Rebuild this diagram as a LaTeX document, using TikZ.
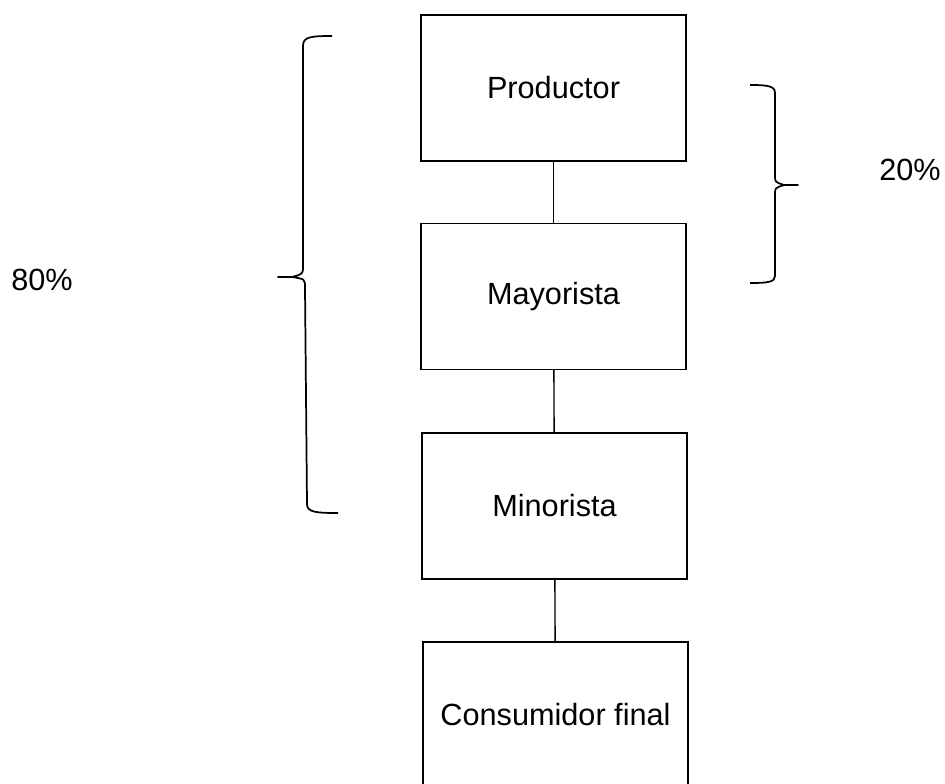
\documentclass[tikz,border=0pt]{standalone}
\usepackage{fontspec}
\setmainfont{Liberation Sans}
\begin{document}
\begin{tikzpicture}
  [x=0.75pt,y=-0.75pt,
   every node/.style={font=\fontsize{23}{27}\selectfont},
   stage/.style={draw,line width=0.8pt,minimum width=198.75pt,minimum height=109.5pt,inner sep=0pt},
   brace line/.style={line width=1.3pt,line join=round}]
  \path[use as bounding box,clip] (0,0) rectangle (945,783);

  \node[stage] (prod) at (553.5,88)  {Productor};
  \node[stage] (may)  at (553.5,296.5) {Mayorista};
  \node[stage] (min)  at (554.5,506) {Minorista};
  \node[stage] (cons) at (555.5,715) {Consumidor final};

  \foreach \from/\to in {prod/may,may/min,min/cons}
    \draw[line width=1pt] (\from) -- (\to);

  % left brace
  \draw[brace line] (332,36) .. controls (310,36) and (303,37) .. (303,46) -- (303,266)
    .. controls (303,274) .. (292,277) -- (278,277) -- (292,277)
    .. controls (305,279) .. (305,288) -- (307,504)
    .. controls (307,512) and (315,513) .. (338,513);
  \node (lo) at (42,280) {80\%};

  % right brace
  \draw[brace line] (750,85) .. controls (768,85) and (775,86) .. (775,93) -- (775,176)
    .. controls (775,182) .. (784,185) -- (798,185) -- (784,185)
    .. controls (775,188) .. (775,194) -- (775,276)
    .. controls (775,282) and (768,283) .. (750,283);
  \node (hi) at (910,170) {20\%};

\end{tikzpicture}
\end{document}
